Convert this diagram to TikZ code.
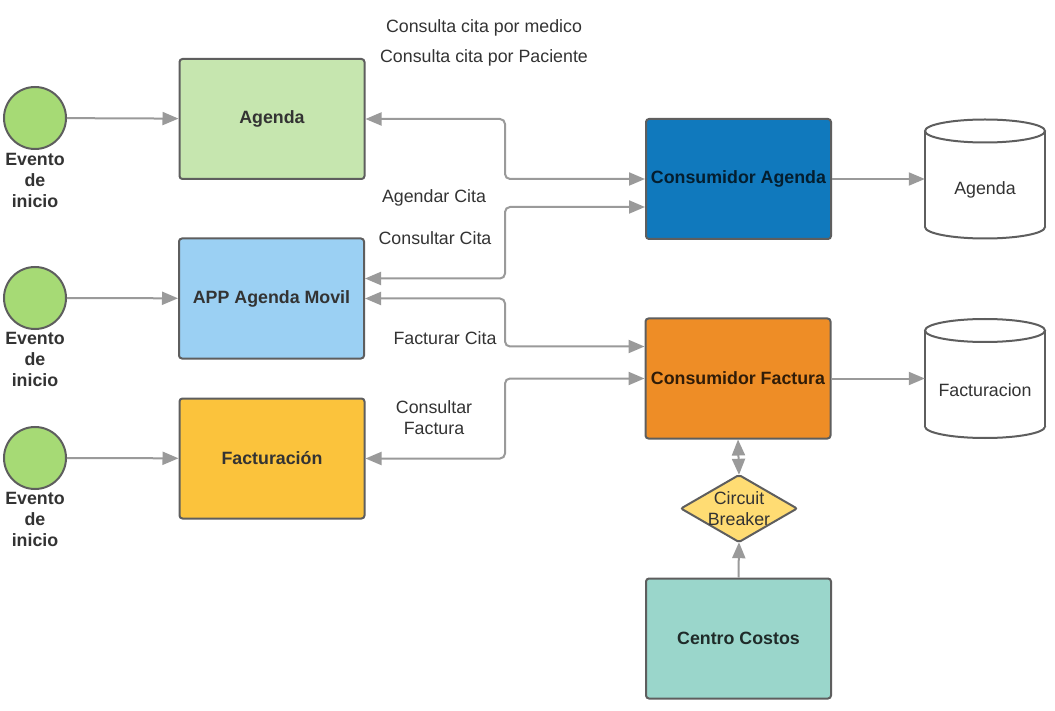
\documentclass[tikz,border=0pt]{standalone}
\usepackage{fontspec}
\setmainfont{Liberation Sans}
\usetikzlibrary{arrows.meta,calc}
\definecolor{edgec}{HTML}{9A9A9A}
\definecolor{linec}{HTML}{5E5E5E}
\definecolor{txt}{HTML}{333333}
\definecolor{fgreen}{HTML}{C6E6AF}
\definecolor{fblue}{HTML}{9BD0F3}
\definecolor{fyellow}{HTML}{FBC33C}
\definecolor{fdblue}{HTML}{1079BD}
\definecolor{forange}{HTML}{EE8D26}
\definecolor{fteal}{HTML}{9AD6CB}
\definecolor{fdiam}{HTML}{FFDC73}
\definecolor{fevt}{HTML}{A6DA75}
\begin{document}
\begin{tikzpicture}[x=1pt,y=-1pt,
  box/.style={draw=linec, line width=2pt, rounded corners=3pt, minimum width=185pt, minimum height=120pt, inner sep=0pt, text=txt, font=\bfseries\fontsize{17.8}{21}\selectfont},
  evt/.style={circle, draw=linec, fill=fevt, line width=2pt, minimum size=62pt, inner sep=0pt},
  evtlbl/.style={align=center, text=txt, font=\bfseries\fontsize{17.8}{21}\selectfont, inner sep=0pt},
  lbl/.style={align=center, text=txt, font=\fontsize{17.8}{21}\selectfont, inner sep=0pt},
  ghost/.style={draw=none, inner sep=0pt},
  tip/.tip={Triangle[length=16pt,width=13pt]},
  conn/.style={draw=edgec, line width=2pt, -tip, rounded corners=5pt},
  bconn/.style={draw=edgec, line width=2pt, tip-tip, rounded corners=5pt},
  cyl/.style={draw=linec, line width=2pt, fill=white}
]
\useasboundingbox (0,0) rectangle (1055,711);
\fill[white] (0,0) rectangle (1055,711);

% events
\node[evt] (e1) at (35,118) {};
\node[evt] (e2) at (35,298) {};
\node[evt] (e3) at (35,458) {};
\node[evtlbl] (e1l) at (35,180) {Evento\\de\\inicio};
\node[evtlbl] (e2l) at (35,359) {Evento\\de\\inicio};
\node[evtlbl] (e3l) at (35,519) {Evento\\de\\inicio};

% boxes
\node[box, fill=fgreen] (agenda) at (272,119) {Agenda};
\node[box, fill=fblue] (app) at (271.5,298.5) {APP Agenda Movil};
\node[box, fill=fyellow] (fact) at (272,458.5) {Facturación};
\node[box, fill=fdblue, text=black!75!fdblue] (consA) at (738.5,179) {Consumidor Agenda};
\node[box, fill=forange, text=black!80!forange] (consF) at (738,378.5) {Consumidor Factura};
\node[box, fill=fteal, text=black!80!fteal] (centro) at (738.5,638.5) {Centro Costos};

% circuit breaker
\draw[draw=linec, line width=2pt, fill=fdiam, rounded corners=2pt] (739,475) -- (797,508.5) -- (739,542) -- (681,508.5) -- cycle;
\node[ghost, minimum width=116pt, minimum height=67pt, align=center, text=txt, font=\fontsize{17.8}{21}\selectfont] (cb) at (739,508.5) {Circuit\\Breaker};

% databases
\node[ghost, minimum width=120pt, minimum height=120pt] (dbA) at (985,179) {};
\node[ghost, minimum width=120pt, minimum height=120pt] (dbF) at (985,378.5) {};
\foreach \c in {179,378.5}{
  \draw[cyl] (985,\c+48) ellipse [x radius=60pt, y radius=11.5pt];
  \fill[white] (925,\c-48) rectangle (1045,\c+48);
  \draw[draw=linec, line width=2pt] (925,\c-48) -- (925,\c+48);
  \draw[draw=linec, line width=2pt] (1045,\c-48) -- (1045,\c+48);
  \draw[cyl] (985,\c-48) ellipse [x radius=60pt, y radius=11.5pt];
}
\node[lbl] (dbAl) at (985,190) {Agenda};
\node[lbl] (dbFl) at (985,390) {Facturacion};

% labels
\node[lbl] (t1) at (484,28) {Consulta cita por medico};
\node[lbl] (t2) at (484,58) {Consulta cita por Paciente};
\node[lbl] (t3) at (434,198) {Agendar Cita};
\node[lbl] (t4) at (435,238) {Consultar Cita};
\node[lbl] (t5) at (445,338) {Facturar Cita};
\node[lbl] (t6) at (434,418) {Consultar\\Factura};

% connectors
\coordinate (j) at (505,0);
\draw[conn] (e1) -- (agenda);
\draw[conn] (e2) -- (app);
\draw[conn] (e3) -- (fact);
\draw[bconn] (agenda.east) -- (agenda.east -| j) -- (j |- consA.west) -- (consA.west);
\draw[bconn] ([yshift=20pt]app.east) -- ([yshift=20pt]app.east -| j) -- ([yshift=-28pt]consA.west -| j) -- ([yshift=-28pt]consA.west);
\draw[bconn] (app.east) -- (app.east -| j) -- ([yshift=32pt]consF.west -| j) -- ([yshift=32pt]consF.west);
\draw[bconn] (fact.east) -- (fact.east -| j) -- (j |- consF.west) -- (consF.west);
\draw[conn] (consA.east) -- (dbA.west);
\draw[conn] (consF.east) -- (dbF.west);
\draw[bconn] (cb.north) -- (consF.south);
\draw[conn] (centro.north) -- (cb.south);
\end{tikzpicture}
\end{document}
